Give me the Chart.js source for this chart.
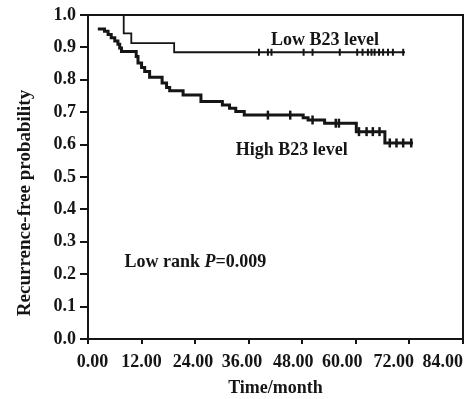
<!DOCTYPE html>
<html>
<head>
<meta charset="utf-8">
<script src="https://cdn.jsdelivr.net/npm/chart.js@4.4.0/dist/chart.umd.min.js"></script>
<style>
  html, body { margin: 0; padding: 0; background: #fff; }
  #wrap { width: 470px; height: 399px; }
</style>
</head>
<body>
<div id="wrap"><canvas id="km"></canvas></div>
<script>
// tick labels
const xTicks = [0, 12, 24, 36, 48, 60, 72, 84];
const yTicks = [0, 0.1, 0.2, 0.3, 0.4, 0.5, 0.6, 0.7, 0.8, 0.9, 1.0];

// low B23 level curve (time in months, recurrence-free probability)
const lowTime = [0, 8.0, 9.7, 19.3, 71.0];
const lowSurv = [1.0, 0.943, 0.913, 0.885, 0.885];
const lowCensor = [38.3, 40.3, 41.1, 48.3, 50.3, 56.4, 60.3, 61.5, 62.7, 63.5, 64.2, 65.2, 66.1, 67.2, 68.3, 70.6];

// high B23 level curve
const highTime = [2.2, 3.7, 4.5, 5.2, 6.0, 6.7, 7.1, 7.5, 10.8, 11.2, 12.0, 12.7, 13.8, 16.6, 17.6, 18.3,
  21.3, 25.3, 30.1, 31.7, 33.1, 35.0, 48.2, 49.3, 53.0, 60.1, 66.5, 72.8];
const highSurv = [0.957, 0.950, 0.940, 0.930, 0.920, 0.910, 0.898, 0.887, 0.872, 0.852, 0.838, 0.826, 0.808, 0.790, 0.776, 0.766,
  0.753, 0.733, 0.722, 0.712, 0.702, 0.691, 0.683, 0.676, 0.666, 0.640, 0.605, 0.605];
const highCensor = [40.3, 45.3, 50.3, 55.5, 56.2, 60.7, 62.4, 63.8, 65.3, 67.6, 69.1, 70.6, 72.4];

const FONT = "'Liberation Serif', 'DejaVu Serif', serif";
const INK = "#151515";

// the x labels in the original sit a bit left of their ticks toward the right end;
// pad with spaces so the centred text drifts the same way (negative = trailing)
const xLabelNudge = [2, 0, -1, -3, -4, -6, -7, -9];

// value of a step curve at time t
function survAt(times, surv, t) {
  let v = surv[0];
  for (let i = 0; i < times.length; i++) {
    if (times[i] <= t) v = surv[i];
  }
  return v;
}
function pts(times, vals) {
  return times.map((t, i) => ({ x: t, y: vals[i] }));
}
function censorPts(c, times, surv) {
  return c.map(t => ({ x: t, y: survAt(times, surv, t) }));
}

const extras = {
  id: "extras",
  afterDraw(chart) {
    const ctx = chart.ctx;
    const a = chart.chartArea;
    const xs = chart.scales.x, ys = chart.scales.y;
    ctx.save();
    // top and right frame
    ctx.strokeStyle = INK;
    ctx.lineWidth = 2;
    ctx.beginPath();
    ctx.moveTo(a.left, a.top);
    ctx.lineTo(a.right, a.top);
    ctx.lineTo(a.right, a.bottom);
    ctx.stroke();

    ctx.fillStyle = INK;
    ctx.textBaseline = "middle";
    ctx.textAlign = "left";
    ctx.font = "bold 18px " + FONT;
    ctx.fillText("Low B23 level", xs.getPixelForValue(41.0), ys.getPixelForValue(0.923));
    ctx.fillText("High B23 level", xs.getPixelForValue(33.1), ys.getPixelForValue(0.583));

    let x = xs.getPixelForValue(8.2);
    const y = ys.getPixelForValue(0.238);
    ctx.fillText("Low rank ", x, y);
    x += ctx.measureText("Low rank ").width;
    ctx.font = "italic bold 18px " + FONT;
    ctx.fillText("P", x, y);
    x += ctx.measureText("P").width;
    ctx.font = "bold 18px " + FONT;
    ctx.fillText("=0.009", x, y);

    // y axis title
    ctx.translate(25, 203);
    ctx.rotate(-Math.PI / 2);
    ctx.textAlign = "center";
    ctx.font = "bold 19px " + FONT;
    ctx.fillText("Recurrence-free probability", 0, 0);
    ctx.restore();
  }
};

new Chart("km", {
  type: "scatter",
  data: {
    datasets: [
      {
        data: pts(lowTime, lowSurv),
        showLine: true,
        stepped: true,
        borderColor: INK,
        borderWidth: 1.8,
        pointRadius: 0,
      },
      {
        data: pts(highTime, highSurv),
        showLine: true,
        stepped: true,
        borderColor: INK,
        borderWidth: 3,
        pointRadius: 0,
      },
      {
        data: censorPts(lowCensor, lowTime, lowSurv),
        pointStyle: "line",
        rotation: 90,
        pointRadius: 3.5,
        borderWidth: 2,
        borderColor: INK,
      },
      {
        data: censorPts(highCensor, highTime, highSurv),
        pointStyle: "line",
        rotation: 90,
        pointRadius: 4.5,
        borderWidth: 2.5,
        borderColor: INK,
      },
    ],
  },
  options: {
    responsive: true,
    maintainAspectRatio: false,
    animation: false,
    layout: { padding: { left: 0, right: 7, top: 15, bottom: 0 } },
    plugins: { legend: { display: false }, tooltip: { enabled: false } },
    scales: {
      x: {
        type: "linear",
        min: 0,
        max: 84,
        afterBuildTicks: s => { s.ticks = xTicks.map(v => ({ value: v })); },
        afterFit: s => { s.height = 60; s.paddingLeft = 0; s.paddingRight = 0; },
        border: { display: true, color: INK, width: 2 },
        grid: { drawOnChartArea: false, drawTicks: true, tickLength: 5, color: INK, lineWidth: 2 },
        ticks: {
          color: INK,
          padding: 8,
          maxRotation: 0,
          autoSkip: false,
          font: { family: FONT, size: 18, weight: "bold" },
          callback: (v, i) => {
            const n = xLabelNudge[i] || 0;
            const pad = " ".repeat(Math.abs(n));
            return n > 0 ? pad + v.toFixed(2) : v.toFixed(2) + pad;
          },
        },
        title: {
          display: true,
          text: "Time/month",
          color: INK,
          padding: { top: 0, bottom: 0 },
          font: { family: FONT, size: 18, weight: "bold" },
        },
      },
      y: {
        min: 0,
        max: 1,
        afterBuildTicks: s => { s.ticks = yTicks.map(v => ({ value: v })); },
        afterFit: s => { s.width = 88; },
        border: { display: true, color: INK, width: 2 },
        grid: { drawOnChartArea: false, drawTicks: true, tickLength: 8, color: INK, lineWidth: 2 },
        ticks: {
          color: INK,
          padding: 4,
          autoSkip: false,
          font: { family: FONT, size: 18, weight: "bold" },
          callback: v => v.toFixed(1),
        },
      },
    },
  },
  plugins: [extras],
});
</script>
</body>
</html>
